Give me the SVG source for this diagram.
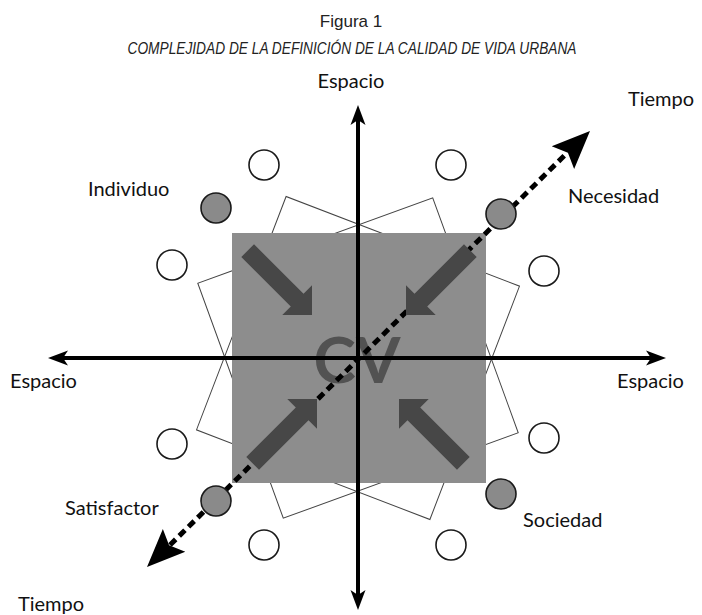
<svg xmlns="http://www.w3.org/2000/svg" width="702" height="615" viewBox="0 0 702 615">
<style>
.title{font-family:"Liberation Sans",Arial,sans-serif;fill:#222;}
.lbl{font-family:Lato,"Open Sans","DejaVu Sans",sans-serif;font-size:20px;fill:#111;}
.thin{fill:none;stroke:#444;stroke-width:1;}
.circW{fill:#fff;stroke:#1a1a1a;stroke-width:1.6;}
.circG{fill:#8a8a8a;stroke:#1a1a1a;stroke-width:1.6;}
.axis{stroke:#000;stroke-width:4;fill:none;}
.dash{stroke:#000;stroke-width:5;stroke-dasharray:8 5;fill:none;}
.dark{fill:#474747;}
.head{fill:#000;}
</style>
<defs>
<polygon id="bigArrow" points="0,0 -21,-21 -21,-9 -91,-9 -91,9 -21,9 -21,21"/>
<polygon id="axHead" points="0,0 -20,-7.5 -15,0 -20,7.5"/>
<polygon id="tHead" points="0,0 -38,-16 -31,0 -38,16"/>
</defs>
<rect width="702" height="615" fill="#fff"/>
<g id="title">
<text class="title" x="351" y="27" font-size="17" text-anchor="middle">Figura 1</text>
<text class="title" x="352" y="54" font-size="17" font-style="italic" text-anchor="middle" textLength="449" lengthAdjust="spacingAndGlyphs">COMPLEJIDAD DE LA DEFINICIÓN DE LA CALIDAD DE VIDA URBANA</text>
</g>
<g id="rotated-squares">
<rect class="thin" x="-125" y="-125" width="250" height="250" transform="translate(358,358) rotate(21)"/>
<rect class="thin" x="-125" y="-125" width="250" height="250" transform="translate(358,358) rotate(-20)"/>
</g>
<g id="cv-square">
<rect x="232" y="233" width="254" height="250" fill="#8d8d8d"/>
<text x="357" y="383" font-family="Lato,'Open Sans',sans-serif" font-weight="bold" font-size="64" fill="#525252" text-anchor="middle">CV</text>
</g>
<g id="connectors">
<line class="dash" x1="170" y1="545" x2="567" y2="153"/>
<use href="#tHead" class="head" transform="translate(590,131) rotate(-44.55)"/>
<use href="#tHead" class="head" transform="translate(147,567) rotate(135.45)"/>
<use href="#bigArrow" class="dark" transform="translate(312,315) rotate(45)"/>
<use href="#bigArrow" class="dark" transform="translate(406,315) rotate(135)"/>
<use href="#bigArrow" class="dark" transform="translate(317,399) rotate(-45)"/>
<use href="#bigArrow" class="dark" transform="translate(399,399) rotate(-135)"/>
<line class="axis" x1="358" y1="120" x2="358" y2="596"/>
<use href="#axHead" class="head" transform="translate(358,105) rotate(-90)"/>
<use href="#axHead" class="head" transform="translate(358,610) rotate(90)"/>
<line class="axis" x1="62" y1="358" x2="652" y2="358"/>
<use href="#axHead" class="head" transform="translate(48,358) rotate(180)"/>
<use href="#axHead" class="head" transform="translate(666,358)"/>
</g>
<g id="circles">
<circle class="circW" cx="264" cy="165" r="15"/>
<circle class="circW" cx="451" cy="165" r="15"/>
<circle class="circW" cx="172" cy="265" r="15"/>
<circle class="circW" cx="544" cy="271" r="15"/>
<circle class="circW" cx="172" cy="444" r="15"/>
<circle class="circW" cx="544" cy="438" r="15"/>
<circle class="circW" cx="264" cy="545" r="15"/>
<circle class="circW" cx="451" cy="545" r="15"/>
</g>
<g id="node-individuo"><circle class="circG" cx="216" cy="208" r="15"/><text class="lbl" x="88" y="196">Individuo</text></g>
<g id="node-necesidad"><circle class="circG" cx="501" cy="214" r="15"/><text class="lbl" x="568" y="203">Necesidad</text></g>
<g id="node-satisfactor"><circle class="circG" cx="216" cy="501" r="15"/><text class="lbl" x="65" y="515">Satisfactor</text></g>
<g id="node-sociedad"><circle class="circG" cx="501" cy="494" r="15"/><text class="lbl" x="523" y="527">Sociedad</text></g>
<g id="axis-labels">
<text class="lbl" x="351" y="88" text-anchor="middle">Espacio</text>
<text class="lbl" x="10" y="388">Espacio</text>
<text class="lbl" x="617" y="388">Espacio</text>
<text class="lbl" x="628" y="106">Tiempo</text>
<text class="lbl" x="18" y="611">Tiempo</text>
</g>
</svg>
